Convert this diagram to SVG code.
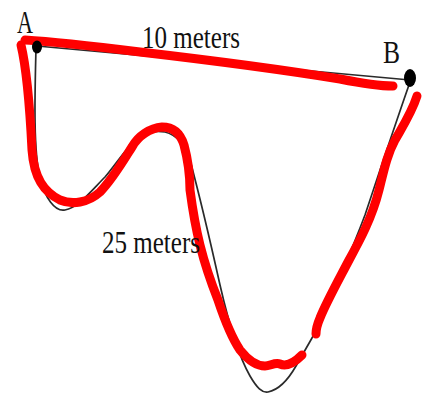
<svg xmlns="http://www.w3.org/2000/svg" width="425" height="402" viewBox="0 0 425 402">
  <style>
    .lbl { font-family: "Liberation Serif", "Times New Roman", serif; font-size: 32px; fill: #111; }
    .blk { fill: none; stroke: #2a2a2a; stroke-width: 1.7; stroke-linecap: round; stroke-linejoin: round; }
    .red { fill: none; stroke: #ff0000; stroke-width: 9; stroke-linecap: round; stroke-linejoin: round; }
    .dot { fill: #000; }
  </style>
  <rect width="425" height="402" fill="#fff"/>
  <g id="connectors">
    <line class="blk" x1="37" y1="46" x2="410" y2="80"/>
    <path class="blk" d="M 36,48 C 35,90 33,150 40,178 C 45,198 55,212 65,210 C 78,208 92,190 105,177 C 115,165 125,150 135,140 C 145,132 155,130 165,132 C 177,135 185,145 190,160 C 198,190 210,240 220,285 C 228,320 238,355 250,376 C 257,388 262,393 268,392 C 278,390 288,380 296,366 L 312,338 C 330,300 350,255 365,215 C 380,170 395,125 410,82"/>
    <path class="red" d="M 25,40 C 60,42 100,47 140,52 C 200,59 260,66 340,79 C 360,83 380,86 393,86"/>
    <path class="red" d="M 21,45 C 27,70 30,110 32,150 C 34,178 44,192 60,200 C 72,205 88,203 100,192 C 112,180 122,163 132,147 C 138,136 150,128 162,127 C 172,127 180,132 184,145 C 188,160 190,175 190,190 C 192,205 195,225 200,245 C 205,265 212,285 218,300 C 224,318 230,335 240,350 C 248,360 256,366 265,366 C 270,366 275,362 280,364 C 287,367 295,362 302,355"/>
    <path class="red" d="M 417,96 C 412,112 403,126 395,140 C 387,155 384,170 379,190 C 372,218 360,240 348,262 C 337,283 326,303 320,318 C 317,325 316,331 316,334"/>
  </g>
  <g id="nodeA">
    <ellipse class="dot" cx="37" cy="47" rx="5" ry="6.5"/>
    <text class="lbl" x="17" y="33" textLength="16" lengthAdjust="spacingAndGlyphs">A</text>
  </g>
  <g id="nodeB">
    <ellipse class="dot" cx="410" cy="78" rx="6" ry="9"/>
    <text class="lbl" x="383" y="63" textLength="17" lengthAdjust="spacingAndGlyphs">B</text>
  </g>
  <g id="label10">
    <text class="lbl" x="142" y="48" textLength="98" lengthAdjust="spacingAndGlyphs">10 meters</text>
  </g>
  <g id="label25">
    <text class="lbl" x="102" y="253" textLength="98" lengthAdjust="spacingAndGlyphs">25 meters</text>
  </g>
</svg>
